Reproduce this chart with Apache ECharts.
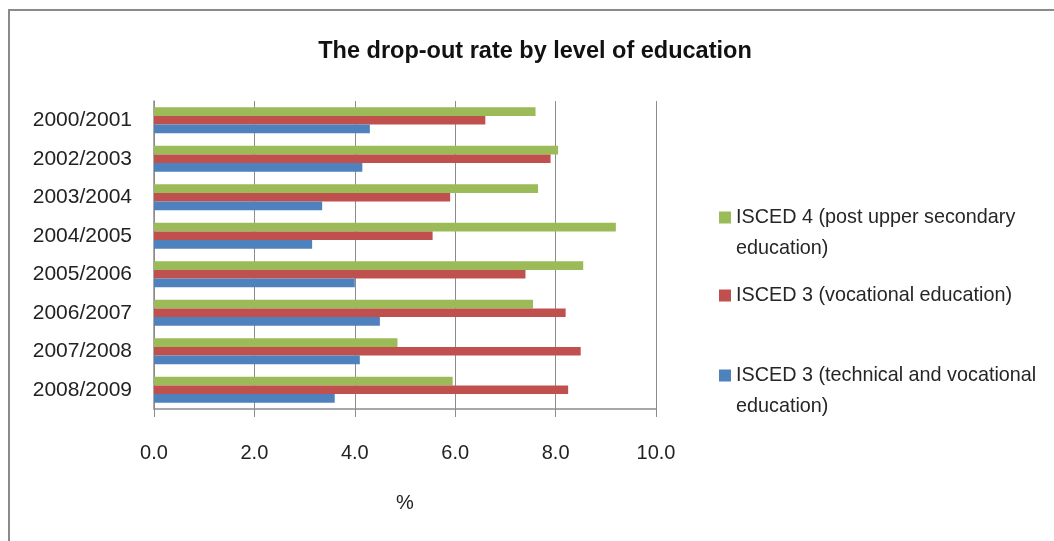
<!DOCTYPE html>
<html>
<head>
<meta charset="utf-8">
<title>The drop-out rate by level of education</title>
<script src="https://cdn.jsdelivr.net/npm/echarts@6/dist/echarts.min.js"></script>
<style>
  html, body { margin: 0; padding: 0; background: #fff; overflow: hidden; }
  #frame { position: absolute; left: 8px; top: 9px; width: 1200px; height: 700px; border: 2px solid #8a8a8a; box-sizing: border-box; }
  #chart { position: absolute; left: 0; top: 0; width: 1054px; height: 541px; }
</style>
</head>
<body>
<div id="frame"></div>
<div id="chart"></div>
<script>
'use strict';
// school years, top to bottom
var years = ['2000/2001', '2002/2003', '2003/2004', '2004/2005', '2005/2006', '2006/2007', '2007/2008', '2008/2009'];
var isced4 = [7.6, 8.05, 7.65, 9.2, 8.55, 7.55, 4.85, 5.95];
var isced3Voc = [6.6, 7.9, 5.9, 5.55, 7.4, 8.2, 8.5, 8.25];
var isced3Tech = [4.3, 4.15, 3.35, 3.15, 4.0, 4.5, 4.1, 3.6];
var xTicks = [0, 2, 4, 6, 8, 10];

var names = [
	'ISCED 4 (post upper secondary\neducation)',
	'ISCED 3 (vocational education)',
	'ISCED 3 (technical and vocational\neducation)'
];
var colors = ['#9bbb59', '#c0504d', '#4f81bd'];
var font = 'Liberation Sans';

// two-line legend entries: square sits at the top of a taller icon box
// so that it lines up with the first text line
function legendAt(name, top, twoLines) {
	return {
		data: [name],
		left: 719,
		top: top,
		padding: 0,
		itemWidth: 12,
		itemHeight: twoLines ? 43 : 12,
		itemGap: 0,
		icon: twoLines ? 'path://M0,0h12v12h-12zM0,43h0.01' : 'rect',
		selectedMode: false,
		textStyle: {
			fontFamily: font,
			fontSize: 19.8,
			color: '#262626',
			lineHeight: 31
		}
	};
}

var option = {
	animation: false,
	textStyle: { fontFamily: font },
	title: {
		text: 'The drop-out rate by level of education',
		left: 530,
		textAlign: 'center',
		top: 35,
		textStyle: { fontFamily: font, fontSize: 23.5, fontWeight: 'bold', color: '#111' }
	},
	legend: [
		legendAt(names[0], 202, true),
		legendAt(names[1], 280, false),
		legendAt(names[2], 360, true)
	],
	grid: { left: 154, right: 398, top: 101, bottom: 132, containLabel: false },
	xAxis: {
		type: 'value',
		min: xTicks[0],
		max: xTicks[xTicks.length - 1],
		interval: 2,
		name: '%',
		nameLocation: 'middle',
		nameGap: 84,
		nameTextStyle: { fontFamily: font, fontSize: 20, color: '#222' },
		axisLine: { show: true, lineStyle: { color: '#8c8c8c', width: 1.5 } },
		axisTick: { show: true, length: 8, lineStyle: { color: '#8c8c8c' } },
		axisLabel: {
			margin: 34,
			fontSize: 20,
			color: '#222',
			formatter: function(v) { return v.toFixed(1); }
		},
		splitLine: { show: true, lineStyle: { color: '#8c8c8c', width: 1 } }
	},
	yAxis: {
		type: 'category',
		inverse: true,
		data: years,
		axisLine: { show: true, lineStyle: { color: '#8c8c8c', width: 1.5 } },
		axisTick: { show: false },
		axisLabel: { margin: 22, fontSize: 21, color: '#222' }
	},
	series: [{
		name: names[0],
		type: 'bar',
		data: isced4,
		barGap: '0%',
		barCategoryGap: '32%',
		itemStyle: { color: colors[0] }
	},
	{
		name: names[1],
		type: 'bar',
		data: isced3Voc,
		barGap: '0%',
		barCategoryGap: '32%',
		itemStyle: { color: colors[1] }
	},
	{
		name: names[2],
		type: 'bar',
		data: isced3Tech,
		barGap: '0%',
		barCategoryGap: '32%',
		itemStyle: { color: colors[2] }
	}]
};

var myChart = echarts.init(document.getElementById('chart'));
myChart.setOption(option);
</script>
</body>
</html>
